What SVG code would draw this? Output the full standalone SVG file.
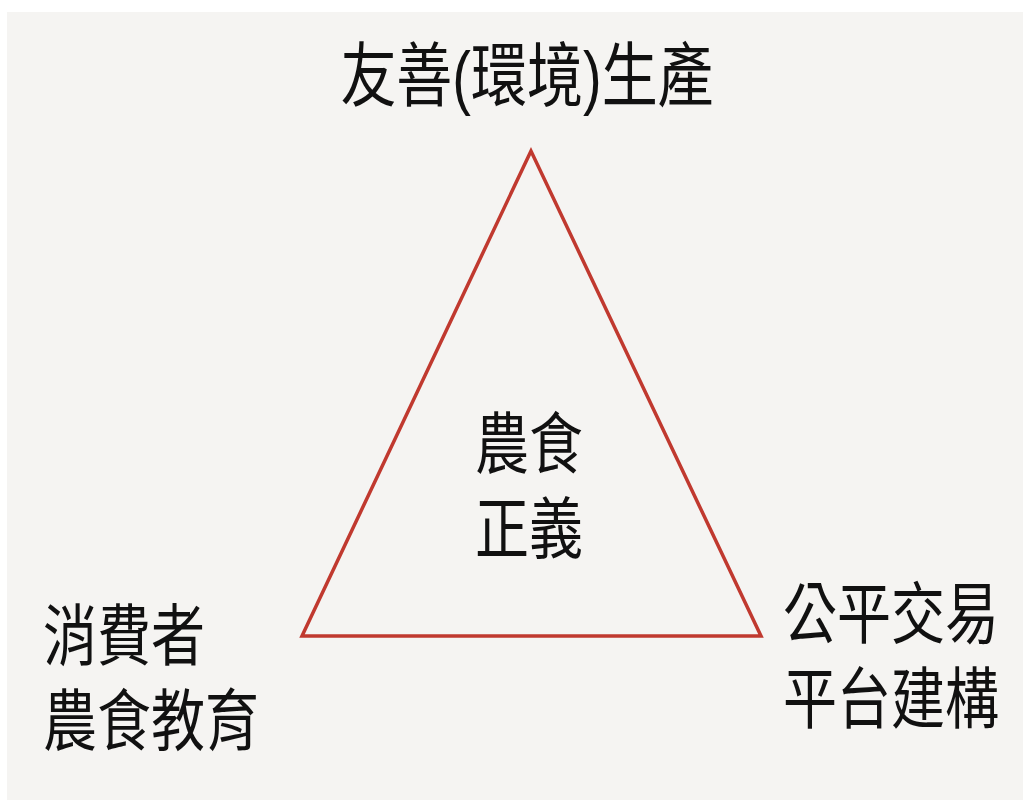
<svg xmlns="http://www.w3.org/2000/svg" width="1025" height="800" viewBox="0 0 1025 800">
<style>
.t{font-family:"Liberation Sans","Noto Sans CJK TC","Noto Sans CJK SC",sans-serif;font-size:54px;fill:#111;}
.tri{fill:none;stroke:#c0392f;stroke-width:3.5;stroke-linejoin:miter;}
</style>
<rect width="1025" height="800" fill="#ffffff"/>
<rect x="7" y="12" width="1016" height="788" fill="#f5f4f2"/>
<g id="connectors">
<polygon class="tri" points="531,151 302,636 761,636"/>
</g>
<g id="top">
<text class="t" style="font-size:56px" text-anchor="middle" transform="translate(527,101) scale(1,1.25)">友善(環境)生產</text>
</g>
<g id="center">
<text class="t" text-anchor="middle" transform="translate(529,468) scale(1,1.25)"><tspan x="0" y="0">農食</tspan><tspan x="0" y="68">正義</tspan></text>
</g>
<g id="left">
<text class="t" transform="translate(43,660) scale(1,1.25)"><tspan x="0" y="0">消費者</tspan><tspan x="0" y="68">農食教育</tspan></text>
</g>
<g id="right">
<text class="t" transform="translate(783,638) scale(1,1.25)"><tspan x="0" y="0">公平交易</tspan><tspan x="0" y="68">平台建構</tspan></text>
</g>
</svg>
